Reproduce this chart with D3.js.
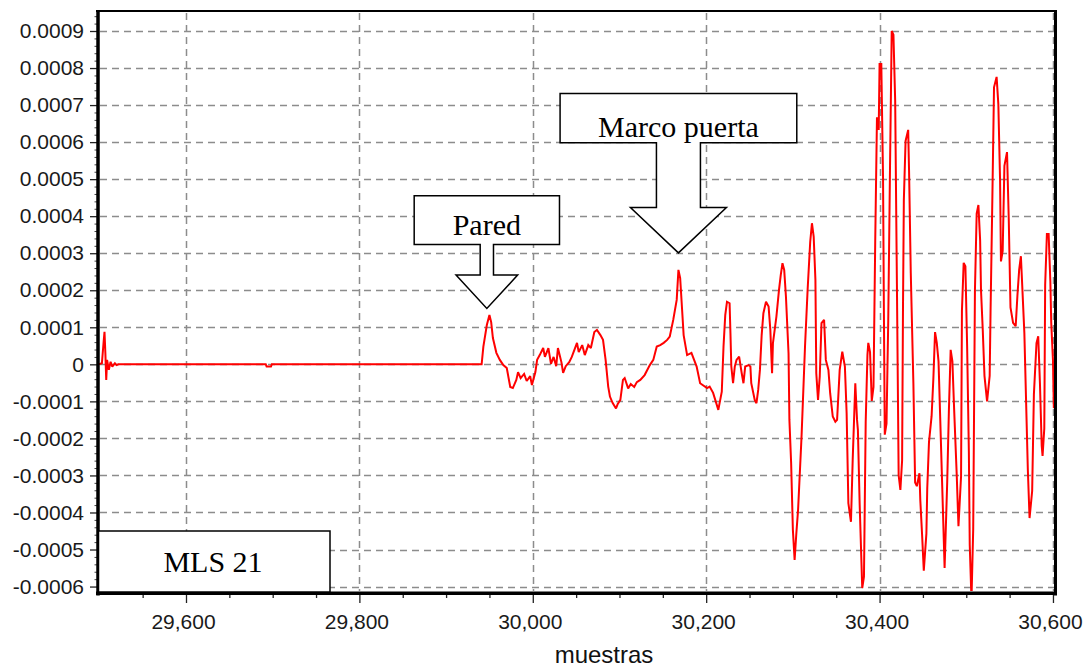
<!DOCTYPE html>
<html><head><meta charset="utf-8">
<script src="https://cdn.jsdelivr.net/npm/d3@7"></script>
<style>body{margin:0;background:#fff}svg{display:block}</style>
</head><body><svg id="c" width="1088" height="668"></svg>
<script>
// ---- data ----
const samples = [
29499,29503,29505,29506,29507,29508,29509,29511,29513,29515,29518,29520,29522,29692,29693,29698,29699,29941,
29943,29947,29950,29952,29954,29958,29962,29966,29970,29974,29977,29981,29983,29986,29990,29993,29997,29999,
30003,30005,30008,30012,30014,30018,30021,30024,30027,30029,30033,30035,30038,30042,30045,30051,30053,30057,
30060,30064,30067,30071,30074,30078,30081,30084,30087,30089,30092,30096,30098,30101,30104,30106,30110,30113,
30117,30120,30124,30129,30135,30139,30143,30147,30151,30155,30158,30162,30166,30168,30170,30172,30174,30178,
30183,30189,30193,30201,30204,30208,30214,30218,30220,30222,30224,30227,30228,30229,30231,30233,30235,30238,
30241,30243,30245,30249,30251,30252,30256,30258,30260,30262,30264,30266,30269,30272,30274,30276,30277,30281,
30284,30286,30288,30290,30292,30295,30296,30298,30300,30302,30304,30306,30308,30310,30314,30317,30320,30322,
30324,30326,30327,30329,30331,30333,30336,30338,30341,30343,30346,30349,30351,30354,30357,30360,30362,30364,
30367,30369,30372,30374,30375,30377,30380,30382,30384,30386,30387,30389,30391,30393,30395,30397,30399,30400,
30402,30404,30405,30406,30408,30410,30412,30414,30416,30418,30420,30422,30424,30426,30427,30428,30430,30433,
30434,30436,30439,30441,30443,30446,30447,30449,30451,30454,30455,30457,30460,30462,30464,30466,30468,30470,
30473,30475,30478,30480,30482,30484,30486,30489,30491,30494,30495,30497,30499,30501,30503,30504,30506,30508,
30510,30512,30514,30516,30517,30519,30521,30524,30527,30528,30530,30532,30535,30537,30539,30540,30542,30544,
30547,30549,30551,30554,30557,30559,30561,30563,30564,30567,30569,30571,30573,30576,30578,30581,30583,30585,
30587,30588,30590,30591,30593,30595,30597,30598,30600,30601,30603
];
const values = [
0,0.03e-4,0.61e-4,0.88e-4,0.30e-4,-0.42e-4,0.12e-4,-0.15e-4,0.07e-4,-0.06e-4,0.03e-4,-0.02e-4,0,0,-0.06e-4,-0.06e-4,0,0,
0.48e-4,1.06e-4,1.33e-4,1.14e-4,0.71e-4,0.31e-4,0.12e-4,-0.02e-4,-0.10e-4,-0.61e-4,-0.64e-4,-0.42e-4,-0.21e-4,-0.37e-4,-0.26e-4,-0.45e-4,-0.32e-4,-0.56e-4,
-0.21e-4,0.12e-4,0.25e-4,0.44e-4,0.20e-4,0.44e-4,0.01e-4,0.20e-4,-0.05e-4,0.44e-4,0.06e-4,-0.23e-4,-0.05e-4,0.06e-4,0.20e-4,0.58e-4,0.33e-4,0.52e-4,
0.25e-4,0.52e-4,0.44e-4,0.87e-4,0.93e-4,0.79e-4,0.66e-4,0.12e-4,-0.60e-4,-0.87e-4,-1.04e-4,-1.19e-4,-1.07e-4,-0.96e-4,-0.42e-4,-0.37e-4,-0.65e-4,-0.53e-4,
-0.61e-4,-0.48e-4,-0.42e-4,-0.29e-4,-0.02e-4,0.12e-4,0.48e-4,0.52e-4,0.58e-4,0.66e-4,0.75e-4,1.20e-4,1.74e-4,2.55e-4,2.33e-4,1.56e-4,0.79e-4,0.25e-4,
0.31e-4,-0.06e-4,-0.51e-4,-0.64e-4,-0.60e-4,-0.77e-4,-1.23e-4,-0.74e-4,0.48e-4,1.33e-4,1.69e-4,1.65e-4,0.84e-4,-0.06e-4,-0.51e-4,-0.06e-4,0.12e-4,0.21e-4,
-0.24e-4,-0.51e-4,-0.06e-4,-0.02e-4,-0.06e-4,-0.51e-4,-0.96e-4,-1.05e-4,-0.69e-4,-0.15e-4,0.79e-4,1.38e-4,1.69e-4,1.56e-4,0.93e-4,-0.24e-4,0.57e-4,1.29e-4,
2.01e-4,2.41e-4,2.73e-4,2.55e-4,1.83e-4,0.30e-4,-1.50e-4,-2.67e-4,-4.47e-4,-5.28e-4,-4.56e-4,-3.93e-4,-2.94e-4,-1.95e-4,0.48e-4,2.01e-4,3.31e-4,3.81e-4,
3.45e-4,2.28e-4,-0.24e-4,-0.96e-4,-0.33e-4,1.11e-4,1.20e-4,0.12e-4,-0.15e-4,-0.78e-4,-1.41e-4,-1.55e-4,-1.50e-4,-0.15e-4,0.34e-4,-0.06e-4,-1.32e-4,-3.75e-4,
-4.25e-4,-2.58e-4,-0.51e-4,-1.50e-4,-1.77e-4,-3.75e-4,-6.04e-4,-5.73e-4,-1.55e-4,0.25e-4,0.58e-4,0.33e-4,-0.99e-4,-0.61e-4,3.36e-4,6.67e-4,6.33e-4,8.11e-4,
8.11e-4,5.04e-4,1.37e-4,-1.90e-4,-1.60e-4,1.17e-4,5.24e-4,9.00e-4,8.90e-4,7.12e-4,2.16e-4,-2.99e-4,-3.39e-4,-2.59e-4,1.47e-4,4.44e-4,6.03e-4,6.33e-4,
5.24e-4,2.46e-4,-0.51e-4,-3.19e-4,-3.29e-4,-2.94e-4,-3.68e-4,-4.58e-4,-5.57e-4,-4.57e-4,-3.34e-4,-2.10e-4,-1.40e-4,-0.41e-4,0.87e-4,0.58e-4,0.08e-4,-1.50e-4,
-3.88e-4,-5.50e-4,-3.19e-4,-1.21e-4,0.39e-4,0.08e-4,-1.21e-4,-2.99e-4,-4.37e-4,-3.02e-4,1.45e-4,2.74e-4,2.65e-4,0.48e-4,-2.38e-4,-4.87e-4,-6.36e-4,-4.45e-4,
2.00e-4,4.07e-4,4.30e-4,3.34e-4,2.00e-4,0.94e-4,-0.31e-4,-1.00e-4,-0.31e-4,1.40e-4,4.35e-4,7.48e-4,7.76e-4,7.02e-4,4.95e-4,2.78e-4,3.06e-4,5.36e-4,
5.73e-4,3.93e-4,1.54e-4,1.12e-4,1.03e-4,1.86e-4,2.55e-4,2.92e-4,2.41e-4,0.85e-4,-1.00e-4,-2.84e-4,-4.15e-4,-3.42e-4,-0.81e-4,0.57e-4,0.76e-4,-0.53e-4,
-2.19e-4,-2.47e-4,-1.73e-4,2.14e-4,3.52e-4,3.52e-4,2.23e-4,1.12e-4,0.11e-4,-1.18e-4,-1.10e-4
];
const xTickValues = [29600, 29800, 30000, 30200, 30400, 30600];
const xTickLabels = ["29,600", "29,800", "30,000", "30,200", "30,400", "30,600"];
const yTickValues = [0.0009, 0.0008, 0.0007, 0.0006, 0.0005, 0.0004, 0.0003, 0.0002, 0.0001, 0,
                     -0.0001, -0.0002, -0.0003, -0.0004, -0.0005, -0.0006];
const yTickLabels = ["0.0009", "0.0008", "0.0007", "0.0006", "0.0005", "0.0004", "0.0003", "0.0002", "0.0001", "0",
                     "-0.0001", "-0.0002", "-0.0003", "-0.0004", "-0.0005", "-0.0006"];
const annotationLabels = ["Pared", "Marco puerta"];
const annotationSamples = [29947, 30168];
const annotationValues = [0.000151, 0.000301];
const seriesLabel = "MLS 21";
const xTitle = "muestras";

// ---- layout ----
const L = 98, R = 1055, T = 11, B = 591;
const svg = d3.select("#c");
const x = d3.scaleLinear().domain([29498.5, 30603.5]).range([98, 1056]);
const y = d3.scaleLinear().domain([-0.000612, 0.000954]).range([B, T]);
const sansFont = "'Liberation Sans', Arial, sans-serif";
const serifFont = "'Liberation Serif', 'Times New Roman', serif";

svg.append("rect").attr("width", 1088).attr("height", 668).attr("fill", "#fff");

// grid
const grid = svg.append("g").attr("stroke", "#8c8c8c").attr("stroke-width", 1.5)
  .attr("stroke-dasharray", "7,5").attr("fill", "none");
grid.selectAll("line.h").data(yTickValues).join("line").attr("class", "h")
  .attr("x1", L + 2).attr("x2", R).attr("y1", d => Math.round(y(d)) + 0.5).attr("y2", d => Math.round(y(d)) + 0.5);
grid.selectAll("line.v").data(xTickValues).join("line").attr("class", "v")
  .attr("y1", T + 2).attr("y2", B).attr("x1", d => Math.round(x(d)) + 0.5).attr("x2", d => Math.round(x(d)) + 0.5);

// signal
svg.append("clipPath").attr("id", "clip").append("rect")
  .attr("x", L).attr("y", T).attr("width", R - L).attr("height", B - T);
const line = d3.line().x((d, i) => x(samples[i])).y((d, i) => y(values[i]));
svg.append("path").datum(values).attr("clip-path", "url(#clip)")
  .attr("d", line).attr("fill", "none").attr("stroke", "#ff0000").attr("stroke-width", 2)
  .attr("stroke-linejoin", "miter").attr("stroke-miterlimit", 2);

// axes
const xAxis = d3.axisBottom(x).tickValues(xTickValues)
  .tickFormat((d, i) => xTickLabels[i]).tickSize(9).tickPadding(11);
const gx = svg.append("g").attr("transform", `translate(0,${B + 3})`).call(xAxis);
gx.select(".domain").remove();
gx.selectAll("line").attr("stroke", "#222").attr("stroke-width", 1.3);
gx.selectAll("text").attr("font-family", sansFont).attr("font-size", 21).attr("fill", "#1a1a1a").attr("dx", -3);

const xMinor = d3.range(29550, 30601, 50).filter(v => v % 200 !== 0);
const gxm = svg.append("g").attr("transform", `translate(0,${B + 3})`)
  .call(d3.axisBottom(x).tickValues(xMinor).tickFormat("").tickSize(4));
gxm.select(".domain").remove();
gxm.selectAll("line").attr("stroke", "#222").attr("stroke-width", 1.3);

const yAxis = d3.axisLeft(y).tickValues(yTickValues)
  .tickFormat((d, i) => yTickLabels[i]).tickSize(7).tickPadding(6);
const gy = svg.append("g").attr("transform", `translate(${L - 1},0)`).call(yAxis);
gy.select(".domain").remove();
gy.selectAll("line").attr("stroke", "#222").attr("stroke-width", 1.3);
gy.selectAll("text").attr("font-family", sansFont).attr("font-size", 21).attr("fill", "#1a1a1a");

const yMinor = d3.range(-30, 48, 1).map(k => k * 0.00002).filter(v => Math.abs(Math.round(v * 1e4) - v * 1e4) > 1e-6 && y(v) > T + 2 && y(v) < B);
const gym = svg.append("g").attr("transform", `translate(${L - 1},0)`)
  .call(d3.axisLeft(y).tickValues(yMinor).tickFormat("").tickSize(2.5));
gym.select(".domain").remove();
gym.selectAll("line").attr("stroke", "#444").attr("stroke-width", 1);

// frame
const frame = svg.append("g").attr("stroke", "#000");
frame.append("line").attr("x1", L - 2).attr("x2", R + 2).attr("y1", T).attr("y2", T).attr("stroke-width", 2);
frame.append("line").attr("x1", R + 0.5).attr("x2", R + 0.5).attr("y1", T - 1).attr("y2", B + 4.5).attr("stroke-width", 3);
frame.append("line").attr("x1", L).attr("x2", L).attr("y1", T - 1).attr("y2", B + 4.5).attr("stroke-width", 3.5);
frame.append("line").attr("x1", L - 2).attr("x2", R + 2).attr("y1", B + 2.3).attr("y2", B + 2.3).attr("stroke-width", 3.5);

// x title
svg.append("text").attr("x", 604).attr("y", 663).attr("text-anchor", "middle")
  .attr("font-family", sansFont).attr("font-size", 24).attr("fill", "#111").text(xTitle);

// series label box
svg.append("rect").attr("x", L + 0.5).attr("y", 531).attr("width", 231.5).attr("height", B - 531 + 1)
  .attr("fill", "#fff").attr("stroke", "#000").attr("stroke-width", 1.5);
svg.append("text").attr("x", 213).attr("y", 571.5).attr("text-anchor", "middle")
  .attr("font-family", serifFont).attr("font-size", 30).attr("fill", "#000").text(seriesLabel);

// callouts: box + block arrow pointing at the reflection peaks
const callouts = [
  {boxW: 145.3, boxH: 48.6, shaftW: 13.3, shaftLen: 30.7, headW: 61.6, headH: 33.3, base: 9.3},
  {boxW: 236.7, boxH: 49.4, shaftW: 44, shaftLen: 64.6, headW: 96, headH: 45.4, base: 6}
];
annotationLabels.forEach((label, i) => {
  const c = callouts[i];
  const tx = x(annotationSamples[i]), ty = y(annotationValues[i]);
  const hb = ty - c.headH, sb = hb - c.shaftLen, bt = sb - c.boxH;
  const p = d3.path();
  p.moveTo(tx - c.boxW / 2, bt);
  p.lineTo(tx + c.boxW / 2, bt);
  p.lineTo(tx + c.boxW / 2, sb);
  p.lineTo(tx + c.shaftW / 2, sb);
  p.lineTo(tx + c.shaftW / 2, hb);
  p.lineTo(tx + c.headW / 2, hb);
  p.lineTo(tx, ty);
  p.lineTo(tx - c.headW / 2, hb);
  p.lineTo(tx - c.shaftW / 2, hb);
  p.lineTo(tx - c.shaftW / 2, sb);
  p.lineTo(tx - c.boxW / 2, sb);
  p.closePath();
  svg.append("path").attr("d", p.toString()).attr("fill", "#fff").attr("stroke", "#000")
    .attr("stroke-width", 1.5).attr("stroke-linejoin", "miter");
  svg.append("text").attr("x", tx).attr("y", sb - c.base).attr("text-anchor", "middle")
    .attr("font-family", serifFont).attr("font-size", 30).attr("fill", "#000").text(label);
});
</script></body></html>
